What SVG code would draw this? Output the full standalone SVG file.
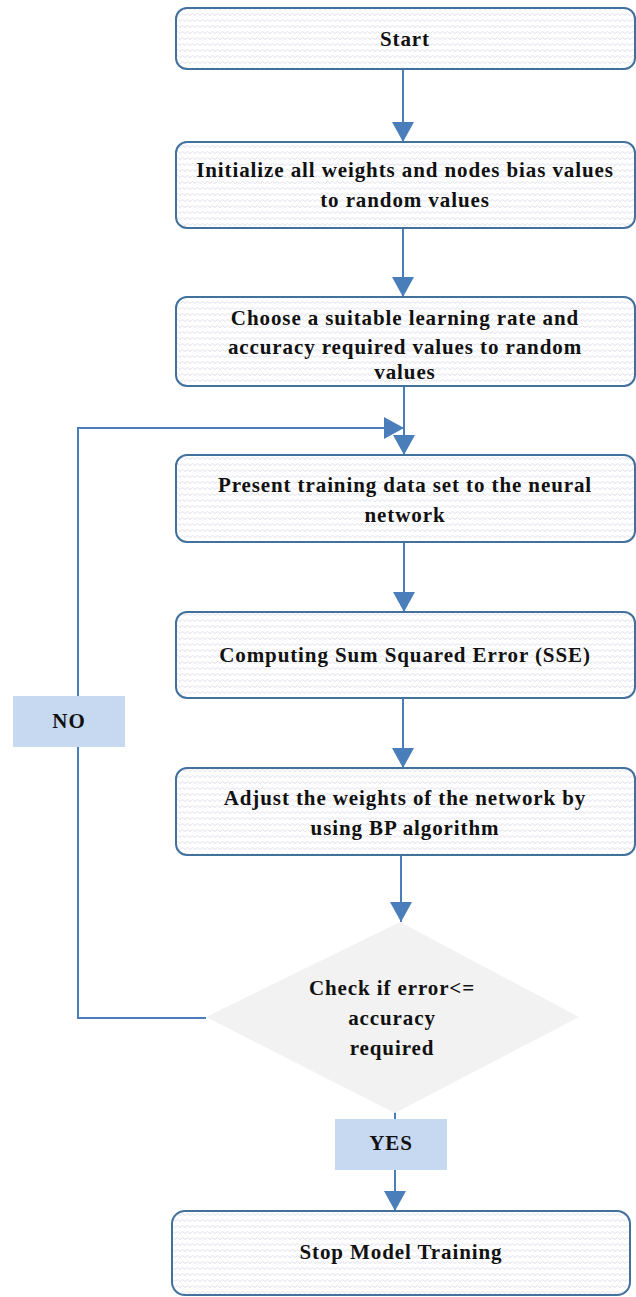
<svg xmlns="http://www.w3.org/2000/svg" width="636" height="1297" viewBox="0 0 636 1297">
<defs>
<pattern id="wave" width="10" height="6" patternUnits="userSpaceOnUse">
<rect width="10" height="6" fill="#ffffff"/>
<path d="M0 3.5 L2.5 1.5 L5 3.5 L7.5 1.5 L10 3.5" fill="none" stroke="#d8d8e6" stroke-width="0.8"/>
</pattern>
<marker id="ah" viewBox="0 0 20 22" refX="20" refY="11" markerWidth="20" markerHeight="22" markerUnits="userSpaceOnUse" orient="auto">
<path d="M0 0 L20 11 L0 22 Z" fill="#4a7ebb"/>
</marker>
<style>
.box{fill:url(#wave);stroke:#41719c;stroke-width:2}
.t{font-family:"Liberation Serif","Times New Roman",serif;font-weight:bold;font-size:21px;letter-spacing:0.9px;fill:#111;text-anchor:middle}
.c{fill:none;stroke:#4a7ebb;stroke-width:2}
.lbl{fill:#c6d9f0}
</style>
</defs>
<g id="connectors">
<line class="c" x1="403" y1="69" x2="403" y2="142" marker-end="url(#ah)"/>
<line class="c" x1="403" y1="228" x2="403" y2="297" marker-end="url(#ah)"/>
<line class="c" x1="404" y1="386" x2="404" y2="455" marker-end="url(#ah)"/>
<line class="c" x1="404" y1="542" x2="404" y2="612" marker-end="url(#ah)"/>
<line class="c" x1="403" y1="698" x2="403" y2="768" marker-end="url(#ah)"/>
<line class="c" x1="401" y1="855" x2="401" y2="922" marker-end="url(#ah)"/>
<polyline class="c" points="206,1018 78,1018 78,428 404,428" marker-end="url(#ah)"/>
<line class="c" x1="395" y1="1112" x2="395" y2="1211" marker-end="url(#ah)"/>
</g>
<g id="start">
<rect class="box" x="176" y="8" width="459" height="61" rx="11"/>
<text class="t" x="405" y="46">Start</text>
</g>
<g id="init">
<rect class="box" x="176" y="142" width="459" height="86" rx="11"/>
<text class="t" x="405" y="177">Initialize all weights and nodes bias values</text>
<text class="t" x="405" y="207">to random values</text>
</g>
<g id="choose">
<rect class="box" x="176" y="297" width="459" height="89" rx="11"/>
<text class="t" x="405" y="325">Choose a suitable learning rate and</text>
<text class="t" x="405" y="354">accuracy required values to random</text>
<text class="t" x="405" y="379">values</text>
</g>
<g id="present">
<rect class="box" x="176" y="455" width="459" height="87" rx="11"/>
<text class="t" x="405" y="492">Present training data set to the neural</text>
<text class="t" x="405" y="522">network</text>
</g>
<g id="sse">
<rect class="box" x="176" y="612" width="459" height="86" rx="11"/>
<text class="t" x="405" y="662">Computing Sum Squared Error (SSE)</text>
</g>
<g id="adjust">
<rect class="box" x="176" y="768" width="459" height="87" rx="11"/>
<text class="t" x="405" y="805">Adjust the weights of the network by</text>
<text class="t" x="405" y="835">using BP algorithm</text>
</g>
<g id="check">
<polygon points="400,922 579,1017 395,1113 206,1017" fill="#f2f2f2"/>
<text class="t" x="392" y="995">Check if error&lt;=</text>
<text class="t" x="392" y="1025">accuracy</text>
<text class="t" x="392" y="1055">required</text>
</g>
<g id="no">
<rect class="lbl" x="13" y="696" width="112" height="51"/>
<text class="t" x="69" y="728">NO</text>
</g>
<g id="yes">
<rect class="lbl" x="335" y="1119" width="112" height="51"/>
<text class="t" x="391" y="1150">YES</text>
</g>
<g id="stop">
<rect class="box" x="172" y="1211" width="458" height="84" rx="13"/>
<text class="t" x="401" y="1259">Stop Model Training</text>
</g>
</svg>
